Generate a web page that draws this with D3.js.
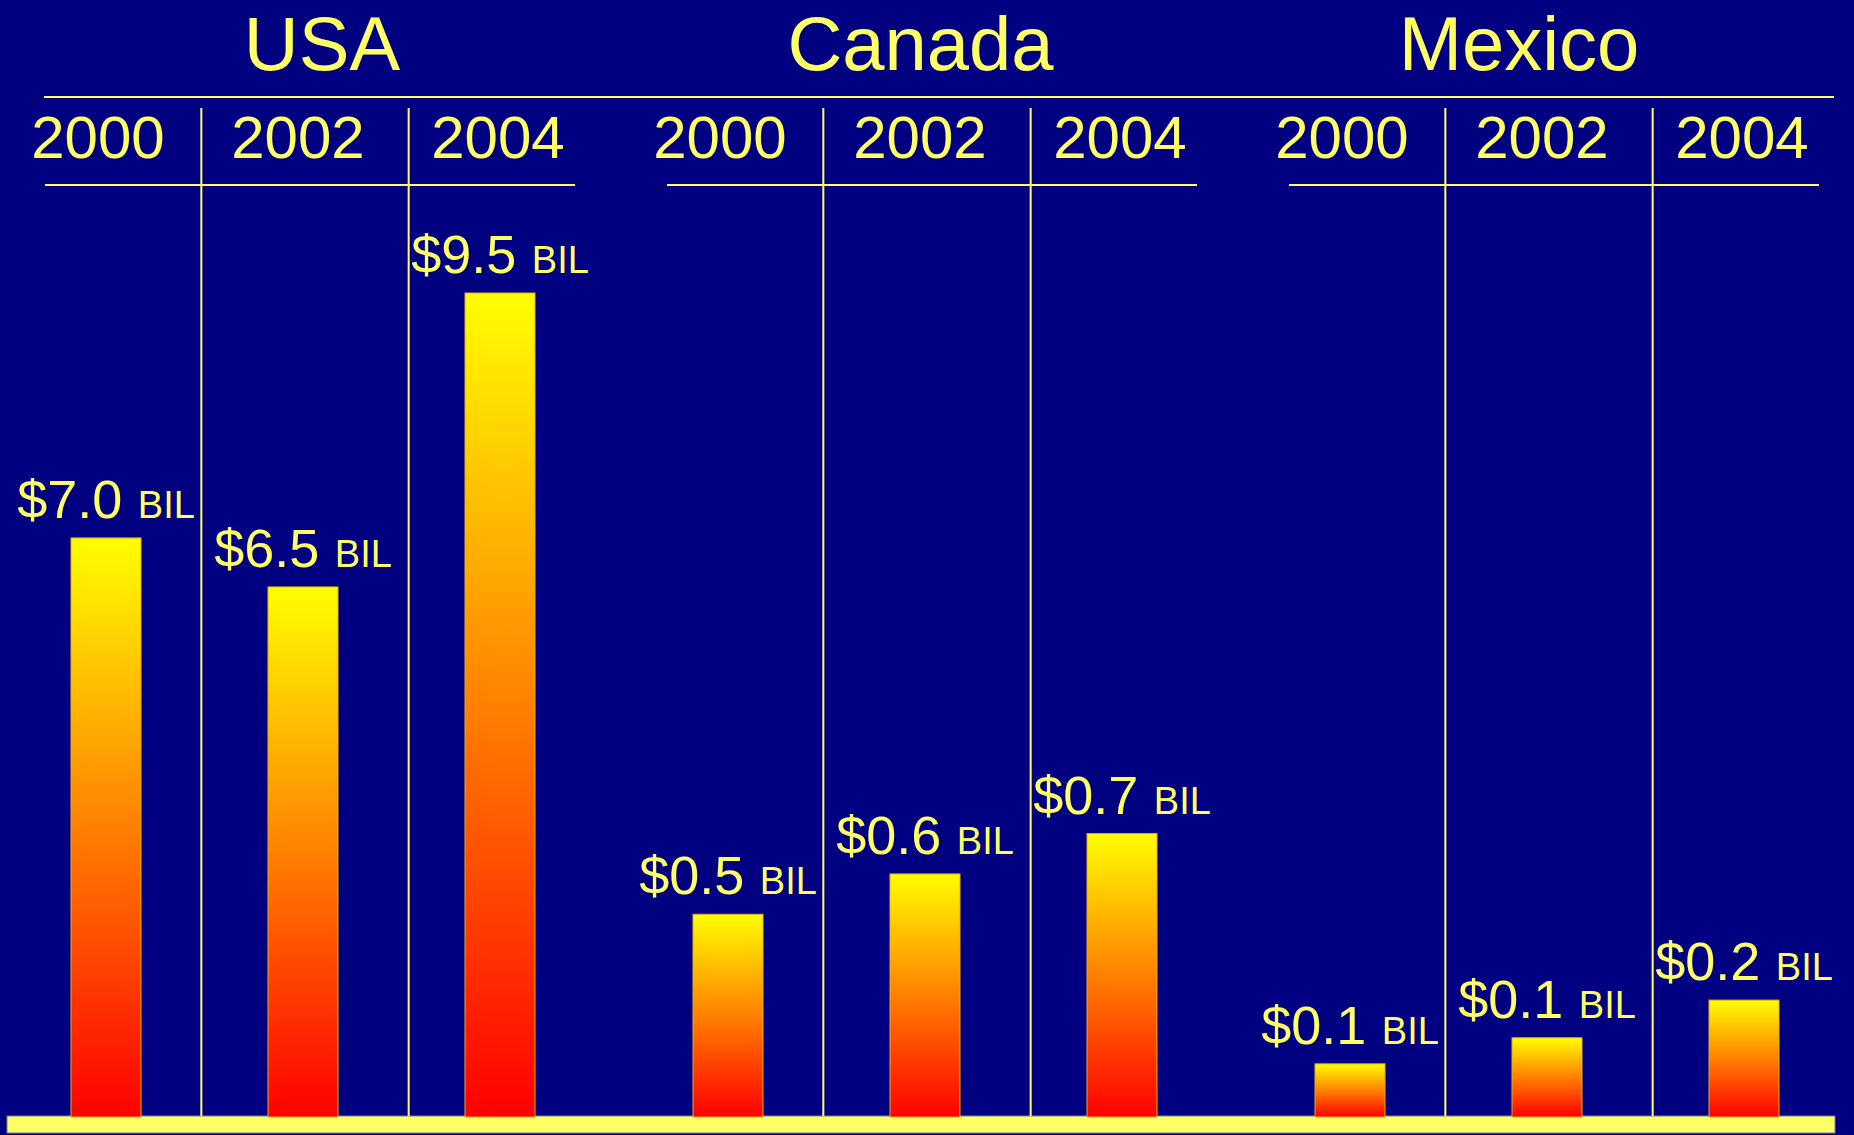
<!DOCTYPE html>
<html>
<head>
<meta charset="utf-8">
<script src="https://cdn.jsdelivr.net/npm/d3@7/dist/d3.min.js"></script>
<style>
  html, body { margin: 0; padding: 0; background: #000080; }
  svg { display: block; }
</style>
</head>
<body>
<div id="chart"></div>
<script>
// Countries, years and the values (billions of dollars) for each bar
const countries = ["USA", "Canada", "Mexico"];
const years = ["2000", "2002", "2004"];
const usaValues = [7.0, 6.5, 9.5];
const canadaValues = [0.5, 0.6, 0.7];
const mexicoValues = [0.09, 0.135, 0.2];
const valueUnit = "BIL";

// Each country panel uses its own value scale
const usaDomain = [1.1, 9.5];
const canadaDomain = [0, 2.04];
const mexicoDomain = [0, 1.42];

const seriesByCountry = {
  USA: { values: usaValues, domain: usaDomain },
  Canada: { values: canadaValues, domain: canadaDomain },
  Mexico: { values: mexicoValues, domain: mexicoDomain }
};

const W = 1854, H = 1135;
const baseY = 1116, plotTop = 293;
const ink = "#ffff66";
const font = "'Liberation Sans', Arial, Helvetica, sans-serif";

const svg = d3.select("#chart").append("svg")
  .attr("width", W).attr("height", H);

svg.append("rect").attr("width", W).attr("height", H).attr("fill", "#000080");

// Yellow-to-red fill used by every bar
const grad = svg.append("defs").append("linearGradient")
  .attr("id", "barFill").attr("x1", 0).attr("y1", 0).attr("x2", 0).attr("y2", 1);
grad.append("stop").attr("offset", "0%").attr("stop-color", "#ffff00");
grad.append("stop").attr("offset", "50%").attr("stop-color", "#ff8000");
grad.append("stop").attr("offset", "100%").attr("stop-color", "#ff0000");

// Panels across the width, three year columns inside each
const xCountry = d3.scaleBand().domain(countries).range([-6, 1860]);
const panelW = xCountry.bandwidth();
const xColumn = d3.scaleBand().domain(years).range([0, panelW]);
const xYear = d3.scalePoint().domain(years).range([104, 504]);
const xBar = d3.scalePoint().domain(years).range([112, 506]);
const xTitle = d3.scalePoint().domain(countries).range([322, 1519]);
const barW = 70;

// Long rule under the country names
svg.append("line")
  .attr("x1", xCountry("USA") + 50).attr("x2", xCountry("Mexico") + 596)
  .attr("y1", 97).attr("y2", 97)
  .attr("stroke", ink).attr("stroke-width", 2);

// Base strip the bars stand on
svg.append("rect")
  .attr("x", xCountry("USA") + 13).attr("y", baseY)
  .attr("width", xCountry("Mexico") + 597 - (xCountry("USA") + 13))
  .attr("height", 17)
  .attr("fill", ink).attr("stroke", "#7a7a9a").attr("stroke-width", 1);

// Country names
svg.selectAll("text.country").data(countries).join("text")
  .attr("class", "country")
  .attr("x", d => xTitle(d)).attr("y", 70)
  .attr("text-anchor", "middle")
  .attr("font-family", font).attr("font-size", 76)
  .attr("fill", ink)
  .text(d => d);

countries.forEach(country => {
  const g0 = xCountry(country);
  const series = seriesByCountry[country];
  const y = d3.scaleLinear().domain(series.domain).range([baseY, plotTop]);
  const g = svg.append("g").attr("transform", `translate(${g0},0)`);

  // Year headings
  g.selectAll("text.year").data(years).join("text")
    .attr("class", "year")
    .attr("x", d => xYear(d)).attr("y", 158)
    .attr("text-anchor", "middle")
    .attr("font-family", font).attr("font-size", 60)
    .attr("fill", ink)
    .text(d => d);

  // Rule under the year headings
  g.append("line")
    .attr("x1", 51).attr("x2", 581)
    .attr("y1", 185).attr("y2", 185)
    .attr("stroke", ink).attr("stroke-width", 2);

  // Column dividers
  g.selectAll("line.divider").data(years.slice(1)).join("line")
    .attr("class", "divider")
    .attr("x1", d => xColumn(d)).attr("x2", d => xColumn(d))
    .attr("y1", 108).attr("y2", baseY)
    .attr("stroke", ink).attr("stroke-width", 2);

  const rows = years.map((yr, i) => ({ year: yr, value: series.values[i] }));

  // Bars
  g.selectAll("rect.bar").data(rows).join("rect")
    .attr("class", "bar")
    .attr("x", d => xBar(d.year) - barW / 2)
    .attr("y", d => y(d.value))
    .attr("width", barW)
    .attr("height", d => baseY + 1 - y(d.value))
    .attr("fill", "url(#barFill)")
    .attr("stroke", "#e0b020").attr("stroke-width", 1);

  // Value labels
  const lbl = g.selectAll("text.value").data(rows).join("text")
    .attr("class", "value")
    .attr("x", d => xBar(d.year)).attr("y", d => y(d.value) - 20)
    .attr("text-anchor", "middle")
    .attr("font-family", font).attr("fill", ink);
  lbl.append("tspan").attr("font-size", 54).text(d => "$" + d.value.toFixed(1));
  lbl.append("tspan").attr("font-size", 38).attr("dx", 5).text(" " + valueUnit);
});
</script>
</body>
</html>
